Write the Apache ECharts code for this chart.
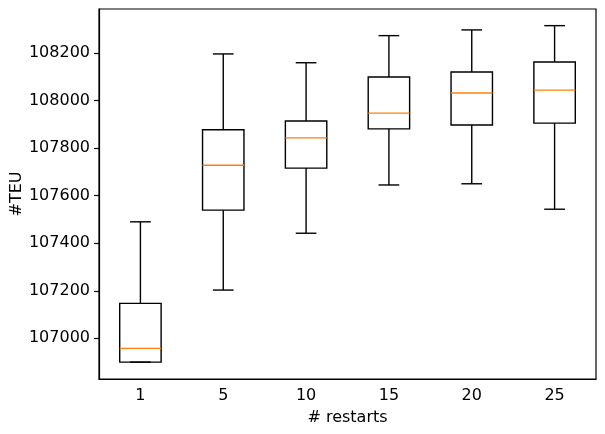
<!DOCTYPE html>
<html>
<head>
<meta charset="utf-8">
<script src="https://cdn.jsdelivr.net/npm/echarts@6/dist/echarts.min.js"></script>
<style>html,body{margin:0;padding:0;background:#fff}#c{width:605px;height:434px}</style>
</head>
<body>
<div id="c"></div>
<script>
const categories = ['1', '5', '10', '15', '20', '25'];
const whiskerLow = [106900, 107203, 107442, 107645, 107650, 107543];
const q1 = [106900, 107539, 107716, 107881, 107897, 107905];
const median = [106958, 107728, 107843, 107947, 108032, 108044];
const q3 = [107147, 107877, 107914, 108099, 108120, 108162];
const whiskerHigh = [107490, 108196, 108159, 108273, 108297, 108315];
const yTicks = [107000, 107200, 107400, 107600, 107800, 108000, 108200];

const data = categories.map((c, i) => [i, whiskerLow[i], q1[i], median[i], q3[i], whiskerHigh[i]]);

const font = 'DejaVu Sans';
const chart = echarts.init(document.getElementById('c'));
chart.setOption({
  animation: false,
  backgroundColor: '#fff',
  grid: { left: 99, right: 9, top: 9, bottom: 55, containLabel: false, outerBoundsMode: 'none', show: true, borderColor: '#000', borderWidth: 1.2, backgroundColor: 'transparent' },
  xAxis: {
    type: 'category',
    data: categories,
    boundaryGap: true,
    name: '# restarts',
    nameLocation: 'middle',
    nameGap: 31,
    nameMoveOverlap: false,
    nameTextStyle: { fontFamily: font, fontSize: 16, color: '#000' },
    axisLine: { lineStyle: { color: '#000', width: 1.2 } },
    axisTick: { alignWithLabel: true, length: 5, lineStyle: { color: '#000', width: 1.2 } },
    axisLabel: { fontFamily: font, fontSize: 16, color: '#000', margin: 9 },
    splitLine: { show: false }
  },
  yAxis: {
    type: 'value',
    min: 106829,
    max: 108385,
    name: '#TEU',
    nameLocation: 'middle',
    nameGap: 74,
    nameRotate: 90,
    nameMoveOverlap: false,
    nameTextStyle: { fontFamily: font, fontSize: 16, color: '#000' },
    axisLine: { show: true, lineStyle: { color: '#000', width: 1.2 } },
    axisTick: { show: true, length: 5, customValues: yTicks, lineStyle: { color: '#000', width: 1.2 } },
    axisLabel: { fontFamily: font, fontSize: 16, color: '#000', margin: 9, customValues: yTicks, formatter: function (v) { return String(v); } },
    splitLine: { show: false }
  },
  series: [{
    type: 'custom',
    data: data,
    encode: { x: 0, y: [1, 2, 3, 4, 5] },
    renderItem: function (params, api) {
      const x = api.value(0);
      const band = api.size([1, 0])[0];
      const bw = band * 0.5;
      const cw = band * 0.25;
      const pLow = api.coord([x, api.value(1)]);
      const pQ1 = api.coord([x, api.value(2)]);
      const pMed = api.coord([x, api.value(3)]);
      const pQ3 = api.coord([x, api.value(4)]);
      const pHigh = api.coord([x, api.value(5)]);
      const cx = pQ1[0];
      const st = { stroke: '#000', lineWidth: 1.4, fill: null };
      return {
        type: 'group',
        children: [
          { type: 'line', shape: { x1: cx, y1: pQ1[1], x2: cx, y2: pLow[1] }, style: st },
          { type: 'line', shape: { x1: cx, y1: pQ3[1], x2: cx, y2: pHigh[1] }, style: st },
          { type: 'line', shape: { x1: cx - cw / 2, y1: pLow[1], x2: cx + cw / 2, y2: pLow[1] }, style: st },
          { type: 'line', shape: { x1: cx - cw / 2, y1: pHigh[1], x2: cx + cw / 2, y2: pHigh[1] }, style: st },
          { type: 'rect', shape: { x: cx - bw / 2, y: pQ3[1], width: bw, height: pQ1[1] - pQ3[1] }, style: { stroke: '#000', lineWidth: 1.4, fill: 'none' } },
          { type: 'line', shape: { x1: cx - bw / 2, y1: pMed[1], x2: cx + bw / 2, y2: pMed[1] }, style: { stroke: '#ff7f0e', lineWidth: 1.4 } }
        ]
      };
    }
  }]
});
</script>
</body>
</html>
